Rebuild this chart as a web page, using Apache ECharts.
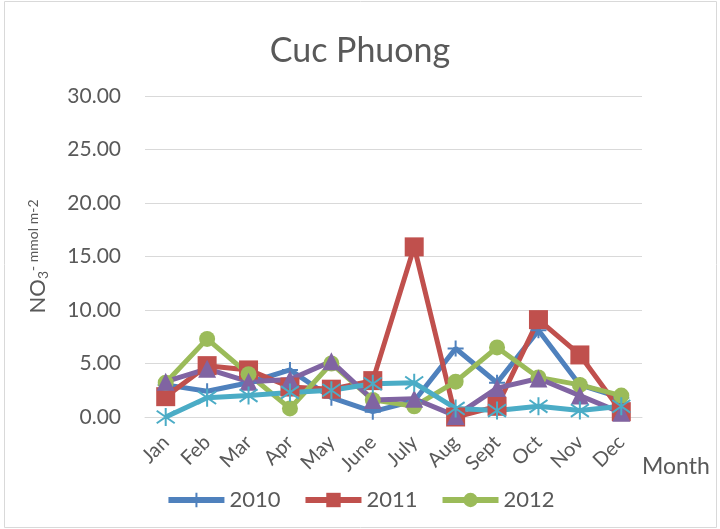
<!DOCTYPE html>
<html>
<head>
<meta charset="utf-8">
<script src="https://cdn.jsdelivr.net/npm/echarts@6/dist/echarts.min.js"></script>
<style>
  html, body { margin: 0; padding: 0; background: #fff; }
  #app { width: 720px; height: 529px; }
</style>
</head>
<body>
<div id="app"></div>
<script>
// months on the x axis
const months = ['Jan', 'Feb', 'Mar', 'Apr', 'May', 'June', 'July', 'Aug', 'Sept', 'Oct', 'Nov', 'Dec'];
// NO3- values (mmol m-2)
const y2010 = [3.0, 2.4, 3.2, 4.4, 1.8, 0.5, 1.5, 6.4, 3.2, 8.1, 3.0, 1.8];
const y2011 = [1.9, 4.8, 4.4, 2.8, 2.6, 3.4, 15.9, 0.0, 1.0, 9.1, 5.8, 0.5];
const y2012 = [3.2, 7.3, 4.0, 0.8, 5.0, 1.6, 1.0, 3.3, 6.5, 3.7, 3.0, 2.0];
const y2013 = [3.3, 4.5, 3.3, 3.5, 5.2, 1.6, 1.7, 0.1, 2.7, 3.6, 2.0, 0.4];
const y2014 = [0.0, 1.8, 2.0, 2.3, 2.5, 3.1, 3.2, 0.8, 0.6, 1.0, 0.6, 1.0];
const yTicks = [0, 5, 10, 15, 20, 25, 30];

const FONT = 'Lato';
const GREY = '#595959';

const plusPath = 'path://M0,-10L0,10M-10,0L10,0';
const starPath = 'path://M0,-10L0,10M-7,-7L7,7M-7,7L7,-7';

const myChart = echarts.init(document.getElementById('app'));

function mkLine(name, data, color, symbol, size, stroke) {
  return {
    name: name,
    type: 'line',
    data: data,
    symbol: symbol,
    symbolSize: size,
    showAllSymbol: true,
    lineStyle: { color: color, width: 5 },
    itemStyle: stroke
      ? { color: 'rgba(0,0,0,0)', borderColor: color, borderWidth: 2 }
      : { color: color, borderColor: color, borderWidth: 0 },
    emphasis: { disabled: true }
  };
}

const option = {
  animation: false,
  textStyle: { fontFamily: FONT },
  title: {
    text: 'Cuc Phuong',
    left: 'center',
    top: 29,
    textStyle: { fontFamily: FONT, fontSize: 34, fontWeight: 'normal', color: GREY }
  },
  legend: {
    data: ['2010', '2011', '2012'],
    left: 'center',
    top: 484,
    itemWidth: 56,
    itemHeight: 18,
    itemGap: 22,
    lineStyle: { width: 6 },
    textStyle: { fontFamily: FONT, fontSize: 22, color: GREY }
  },
  grid: { left: 145, right: 78, top: 96, bottom: 112 },
  xAxis: {
    type: 'category',
    data: months,
    boundaryGap: true,
    name: 'Month',
    nameLocation: 'end',
    nameGap: 0,
    nameTextStyle: {
      fontFamily: FONT, fontSize: 23, color: GREY,
      align: 'left', verticalAlign: 'top', padding: [38, 0, 0, 0]
    },
    axisLine: { show: true, lineStyle: { color: '#d9d9d9', width: 1 } },
    axisTick: { show: false },
    axisLabel: {
      interval: 0,
      rotate: 45,
      margin: 22,
      fontFamily: FONT,
      fontSize: 20,
      color: GREY
    }
  },
  yAxis: {
    type: 'value',
    min: yTicks[0],
    max: yTicks[yTicks.length - 1],
    interval: 5,
    name: '{b|NO}{sub|3}{sup|- mmol m-2}',
    nameLocation: 'middle',
    nameGap: 95,
    nameRotate: 90,
    nameTextStyle: {
      rich: {
        b: { fontFamily: FONT, fontSize: 22, color: GREY, verticalAlign: 'middle' },
        sub: { fontFamily: FONT, fontSize: 14, color: GREY, verticalAlign: 'bottom', padding: [10, 0, 0, 0] },
        sup: { fontFamily: FONT, fontSize: 14, color: GREY, verticalAlign: 'top', padding: [0, 0, 8, 0] }
      }
    },
    axisLine: { show: false },
    axisTick: { show: false },
    axisLabel: {
      margin: 24,
      fontFamily: FONT,
      fontSize: 21,
      color: GREY,
      formatter: v => v.toFixed(2)
    },
    splitLine: { lineStyle: { color: '#d9d9d9', width: 1 } }
  },
  graphic: [
    {
      type: 'rect',
      shape: { x: 4.5, y: 1.5, width: 712, height: 526 },
      style: { fill: 'none', stroke: '#d9d9d9', lineWidth: 1 },
      silent: true
    }
  ],
  series: [
    mkLine('2010', y2010, '#4F81BD', plusPath, 16, true),
    mkLine('2011', y2011, '#C0504D', 'rect', 19, false),
    mkLine('2012', y2012, '#9BBB59', 'circle', 16, false),
    mkLine('2013', y2013, '#8064A2', 'triangle', 18, false),
    mkLine('2014', y2014, '#4BACC6', starPath, 18, true)
  ]
};

myChart.setOption(option);
</script>
</body>
</html>
